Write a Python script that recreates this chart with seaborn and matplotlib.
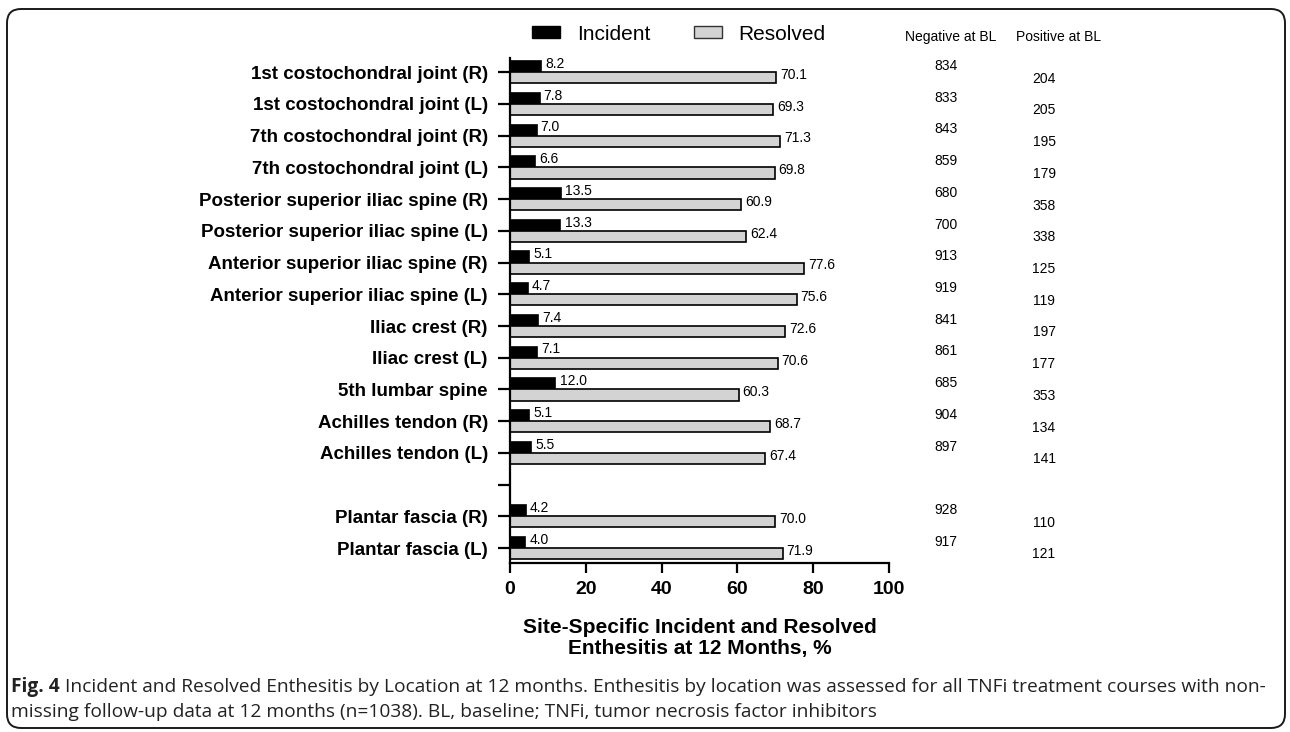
import matplotlib
matplotlib.use("Agg")
import matplotlib.pyplot as plt
import matplotlib.transforms as mtransforms
from matplotlib.patches import FancyBboxPatch, Patch
import numpy as np
import pandas as pd
import seaborn as sns

# ---- data ----
sites = [
    "1st costochondral joint (R)",
    "1st costochondral joint (L)",
    "7th costochondral joint (R)",
    "7th costochondral joint (L)",
    "Posterior superior iliac spine (R)",
    "Posterior superior iliac spine (L)",
    "Anterior superior iliac spine (R)",
    "Anterior superior iliac spine (L)",
    "Iliac crest (R)",
    "Iliac crest (L)",
    "5th lumbar spine",
    "Achilles tendon (R)",
    "Achilles tendon (L)",
    "Plantar fascia (R)",
    "Plantar fascia (L)",
]
incident = [8.2, 7.8, 7.0, 6.6, 13.5, 13.3, 5.1, 4.7, 7.4, 7.1, 12.0, 5.1, 5.5, 4.2, 4.0]
resolved = [70.1, 69.3, 71.3, 69.8, 60.9, 62.4, 77.6, 75.6, 72.6, 70.6, 60.3, 68.7, 67.4, 70.0, 71.9]
negative_bl = [834, 833, 843, 859, 680, 700, 913, 919, 841, 861, 685, 904, 897, 928, 917]
positive_bl = [204, 205, 195, 179, 358, 338, 125, 119, 197, 177, 353, 134, 141, 110, 121]
series = ["Incident", "Resolved"]
x_ticks = [0, 20, 40, 60, 80, 100]

# a blank slot separates the plantar fascia rows
order = sites[:13] + [""] + sites[13:]

df = pd.DataFrame({
    "site": sites * 2,
    "value": incident + resolved,
    "type": [series[0]] * len(sites) + [series[1]] * len(sites),
})

sns.set_theme(style="ticks")
plt.rcParams["font.family"] = ["Liberation Sans", "DejaVu Sans"]
plt.rcParams["text.color"] = "black"
plt.rcParams["axes.labelcolor"] = "black"
plt.rcParams["xtick.color"] = "black"
plt.rcParams["ytick.color"] = "black"

W, H = 1290, 732
fig = plt.figure(figsize=(W / 100, H / 100), dpi=100)
ax = fig.add_axes([510 / W, 1 - 563 / H, (889 - 510) / W, (563 - 58) / H])

sns.barplot(
    data=df, y="site", x="value", hue="type", order=order, hue_order=series,
    palette=["#000000", "#d3d3d3"], edgecolor="black", linewidth=1.2,
    width=0.7, errorbar=None, orient="h", ax=ax, legend=False,
)

ax.set_xlim(0, 100)
ax.set_ylim(len(order) - 1 + 0.47, -0.45)
ax.set_xticks(x_ticks)
ax.set_xticklabels([str(t) for t in x_ticks], fontsize=14, fontweight="bold")
ax.set_yticks(range(len(order)))
ax.set_yticklabels(order, fontsize=13.5, fontweight="bold")
ax.tick_params(axis="y", length=9, width=1.6, pad=7, colors="black")
ax.tick_params(axis="x", length=7.2, width=1.6, pad=6, colors="black")
for s in ["top", "right"]:
    ax.spines[s].set_visible(False)
for s in ["left", "bottom"]:
    ax.spines[s].set_linewidth(1.6)
    ax.spines[s].set_color("black")
ax.set_ylabel("")
ax.set_xlabel("Site-Specific Incident and Resolved\nEnthesitis at 12 Months, %",
              fontsize=15, fontweight="bold", labelpad=14, linespacing=1.12,
              color="black")

# value labels at the bar ends
for cont in ax.containers:
    for ann in ax.bar_label(cont, fmt="%.1f", padding=3, fontsize=10, color="black"):
        ann.xyann = (3, 2)

# legend across the top
handles = [Patch(facecolor="#000000", edgecolor="black", linewidth=1.0),
           Patch(facecolor="#d3d3d3", edgecolor="#333333", linewidth=1.0)]
leg = fig.legend(handles, series, loc="center left", bbox_to_anchor=(532 / W, 1 - 34 / H),
                 ncol=2, frameon=False, fontsize=15, handlelength=1.35, handleheight=0.5,
                 handletextpad=0.8, columnspacing=2.1, borderaxespad=0, borderpad=0)
for t in leg.get_texts():
    t.set_color("black")

# baseline counts to the right of the plot
tr = mtransforms.blended_transform_factory(fig.transFigure, ax.transData)
fig.text(951 / W, 1 - 37 / H, "Negative at BL", ha="center", va="center", fontsize=10)
fig.text(1059 / W, 1 - 37 / H, "Positive at BL", ha="center", va="center", fontsize=10)
for i, site in enumerate(order):
    if site == "":
        continue
    k = sites.index(site)
    ax.text(946 / W, i - 0.2, str(negative_bl[k]), transform=tr, ha="center",
            va="center", fontsize=10, clip_on=False)
    ax.text(1044 / W, i + 0.2, str(positive_bl[k]), transform=tr, ha="center",
            va="center", fontsize=10, clip_on=False)

# rounded frame around the figure (pixel coordinates)
frame = FancyBboxPatch((7, H - 728), 1285 - 7, 728 - 9,
                       boxstyle="round,pad=0,rounding_size=14",
                       transform=mtransforms.IdentityTransform(), facecolor="none",
                       edgecolor="#1a1a1a", linewidth=1.4)
fig.patches.append(frame)

# caption
cap_font = ["Open Sans", "DejaVu Sans"]
cap_size = 13.8
fig.canvas.draw()
renderer = fig.canvas.get_renderer()
t1 = fig.text(11 / W, 1 - 692 / H, "Fig. 4", fontsize=cap_size, fontweight="bold",
              family=cap_font, va="baseline", ha="left", color="#222222")
bb = t1.get_window_extent(renderer=renderer)
fig.text((bb.x1 + 5) / W, 1 - 692 / H,
         "Incident and Resolved Enthesitis by Location at 12 months. Enthesitis by location "
         "was assessed for all TNFi treatment courses with non-",
         fontsize=cap_size, family=cap_font, va="baseline", ha="left", color="#222222")
fig.text(11 / W, 1 - 717 / H,
         "missing follow-up data at 12 months (n=1038). BL, baseline; TNFi, tumor necrosis "
         "factor inhibitors",
         fontsize=cap_size, family=cap_font, va="baseline", ha="left", color="#222222")

fig.savefig("out.png", dpi=100)
